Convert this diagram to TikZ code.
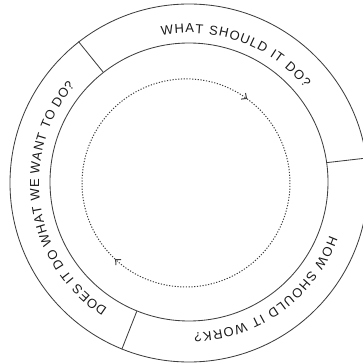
\documentclass[tikz,border=0pt]{standalone}
\usepackage{fontspec}
\setmainfont{Liberation Sans}
\usetikzlibrary{decorations.text,arrows.meta}
\definecolor{ln}{HTML}{404040}
\definecolor{tx}{HTML}{1A1A1A}
\begin{document}
\begin{tikzpicture}[x=1pt,y=1pt,
  ring/.style={circle, draw=ln, line width=0.85pt, inner sep=0pt},
  divider/.style={draw=ln, line width=0.85pt},
  loopline/.style={draw=ln, line width=1pt, dash pattern=on 1.2pt off 1.6pt,
     -{Straight Barb[length=4pt,width=7.5pt,line width=1pt]}},
  ringtext/.style={decorate, decoration={text along path, text color=tx,
     text align=fit to path}}]
\fontsize{13}{15}\selectfont
\useasboundingbox (0,0) rectangle (363,364);
\clip (0,0) rectangle (363,364);
\coordinate (c) at (189,181);
\coordinate (d) at (186,181);
\node[ring, minimum size=358pt] (outer) at (c) {};
\node[ring, minimum size=278pt] (inner) at (189,182) {};
\draw[divider] (inner.128) -- (outer.128);
\draw[divider] (inner.8) -- (outer.8);
\draw[divider] (inner.248) -- (outer.248);
% dotted loop
\draw[loopline] (d) ++(227:104) arc[start angle=227, end angle=54, radius=104];
\draw[loopline] (d) ++(54:104) arc[start angle=54, end angle=-133, radius=104];
% texts
\path[ringtext, decoration={text={WHAT SHOULD IT DO?}}]
  (c) ++(100.5:150) arc[start angle=100.5, end angle=39.5, radius=150];
\path[ringtext, decoration={text={HOW SHOULD IT WORK?}}]
  (c) ++(-20.5:150) arc[start angle=-20.5, end angle=-88, radius=150];
\path[ringtext, decoration={text={DOES IT DO WHAT WE WANT TO DO?}}]
  (c) ++(237:150) arc[start angle=237, end angle=139.5, radius=150];
\end{tikzpicture}
\end{document}
